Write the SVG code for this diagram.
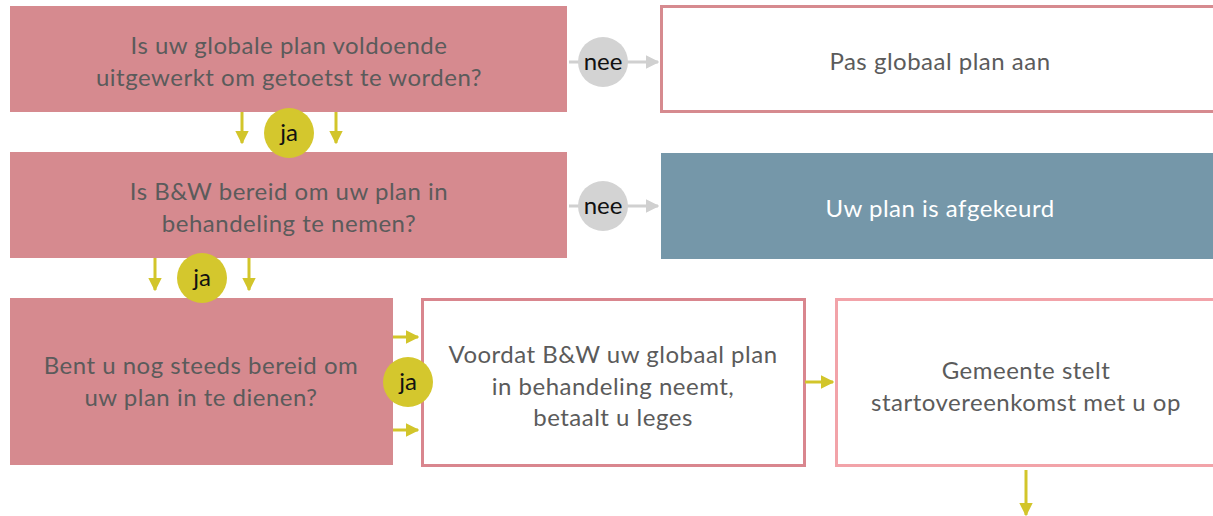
<svg xmlns="http://www.w3.org/2000/svg" width="1213" height="516" viewBox="0 0 1213 516">
<defs>
<style>
.t{font-family:Lato,"Open Sans","Liberation Sans",sans-serif;font-size:24px;letter-spacing:0.5px;fill:#5b5b5b;text-anchor:middle}
.w{fill:#ffffff}
.c{font-family:Lato,"Open Sans","Liberation Sans",sans-serif;font-size:24px;fill:#111;text-anchor:middle}
.pink{fill:#d68a8f}
.y{stroke:#d2c52a;stroke-width:3;fill:none}
.g{stroke:#d0d0d0;stroke-width:3;fill:none}
</style>
<marker id="ay" viewBox="0 0 10 10" refX="9" refY="5" markerWidth="4.5" markerHeight="4.5" markerUnits="strokeWidth" orient="auto"><path d="M0,0 L10,5 L0,10 Z" fill="#d2c52a"/></marker>
<marker id="ag" viewBox="0 0 10 10" refX="9" refY="5" markerWidth="4.5" markerHeight="4.5" markerUnits="strokeWidth" orient="auto"><path d="M0,0 L10,5 L0,10 Z" fill="#d0d0d0"/></marker>
</defs>
<rect width="1213" height="516" fill="#ffffff"/>
<g id="q1"><rect class="pink" x="10" y="6" width="557" height="106"/><text class="t" x="289" y="54">Is uw globale plan voldoende</text><text class="t" x="289" y="86">uitgewerkt om getoetst te worden?</text></g>
<g id="r1"><rect x="661.5" y="6.5" width="560" height="105" fill="#fff" stroke="#d68a8f" stroke-width="3"/><text class="t" x="940" y="70">Pas globaal plan aan</text></g>
<g id="q2"><rect class="pink" x="10" y="152" width="557" height="106"/><text class="t" x="289" y="200">Is B&amp;W bereid om uw plan in</text><text class="t" x="289" y="232">behandeling te nemen?</text></g>
<g id="r2"><rect x="661" y="153" width="552" height="106" fill="#7597a9"/><text class="t w" x="940" y="217">Uw plan is afgekeurd</text></g>
<g id="q3"><rect class="pink" x="10" y="298" width="383" height="167"/><text class="t" x="201" y="374">Bent u nog steeds bereid om</text><text class="t" x="201" y="406">uw plan in te dienen?</text></g>
<g id="r3"><rect x="422.5" y="299.5" width="382" height="166" fill="#fff" stroke="#d9868e" stroke-width="3"/><text class="t" x="613" y="363">Voordat B&amp;W uw globaal plan</text><text class="t" x="613" y="395">in behandeling neemt,</text><text class="t" x="613" y="426">betaalt u leges</text></g>
<g id="r4"><rect x="836.5" y="299.5" width="390" height="166" fill="#fff" stroke="#f2a3a9" stroke-width="3"/><text class="t" x="1026" y="379">Gemeente stelt</text><text class="t" x="1026" y="411">startovereenkomst met u op</text></g>
<g id="connectors">
<line class="g" x1="569" y1="62" x2="658" y2="62" marker-end="url(#ag)"/>
<line class="g" x1="569" y1="206" x2="658" y2="206" marker-end="url(#ag)"/>
<line class="y" x1="242" y1="112" x2="242" y2="143" marker-end="url(#ay)"/>
<line class="y" x1="336" y1="112" x2="336" y2="143" marker-end="url(#ay)"/>
<line class="y" x1="155" y1="258" x2="155" y2="290" marker-end="url(#ay)"/>
<line class="y" x1="249" y1="258" x2="249" y2="290" marker-end="url(#ay)"/>
<line class="y" x1="393" y1="337" x2="418" y2="337" marker-end="url(#ay)"/>
<line class="y" x1="393" y1="430" x2="418" y2="430" marker-end="url(#ay)"/>
<line class="y" x1="805" y1="382" x2="833" y2="382" marker-end="url(#ay)"/>
<line class="y" x1="1026" y1="470" x2="1026" y2="515" marker-end="url(#ay)"/>
</g>
<g id="nee1"><circle cx="603" cy="62" r="25" fill="#d3d3d3"/><text class="c" x="603" y="70">nee</text></g>
<g id="nee2"><circle cx="603" cy="206" r="25" fill="#d3d3d3"/><text class="c" x="603" y="214">nee</text></g>
<g id="ja1"><circle cx="289" cy="133" r="25" fill="#d4c72d"/><text class="c" x="289" y="141">ja</text></g>
<g id="ja2"><circle cx="202" cy="278" r="25" fill="#d4c72d"/><text class="c" x="202" y="286">ja</text></g>
<g id="ja3"><circle cx="408" cy="382" r="25" fill="#d4c72d"/><text class="c" x="408" y="390">ja</text></g>
</svg>
